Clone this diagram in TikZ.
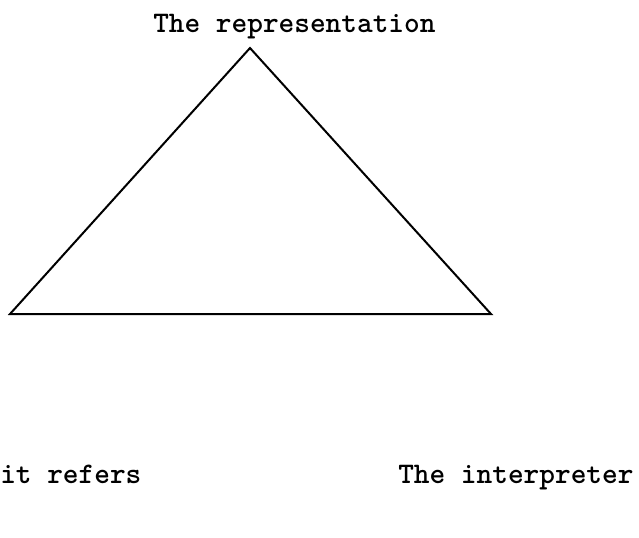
\documentclass[tikz,border=0pt]{standalone}
\begin{document}
\begin{tikzpicture}[x=0.75pt,y=-0.75pt,
  lbl/.style={anchor=base west,inner sep=0pt,font=\fontsize{22.4pt}{24pt}\ttfamily\bfseries},
  edge/.style={line width=1.5pt}]
\useasboundingbox (0,0) rectangle (639,537);
\coordinate (top) at (250,48);
\coordinate (left) at (10,314);
\coordinate (right) at (491,314);
\draw[edge] (top) -- (left) -- (right) -- cycle;
\node[lbl] (rep) at (153,32) {The representation};
\node[lbl] (ref) at (0,483) {it refers};
\node[lbl] (int) at (398,483) {The interpreter};
\end{tikzpicture}
\end{document}
